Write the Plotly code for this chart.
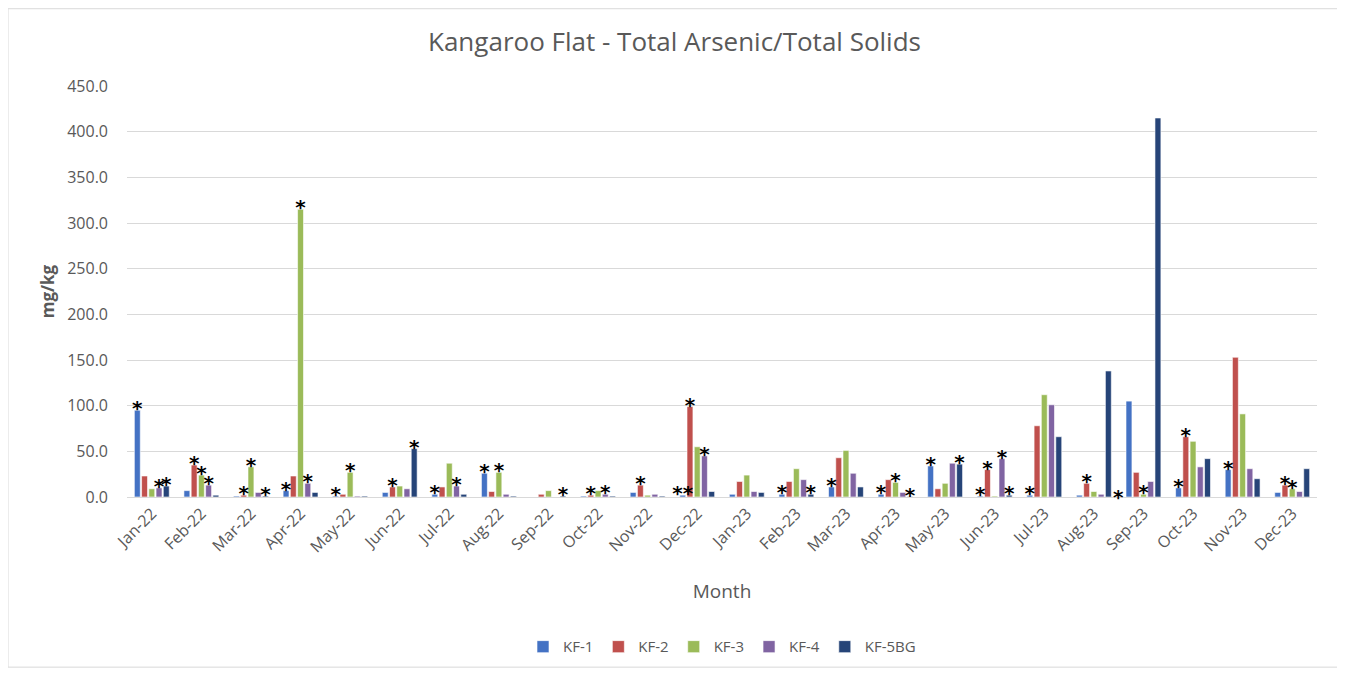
import plotly.graph_objects as go

months = ["Jan-22", "Feb-22", "Mar-22", "Apr-22", "May-22", "Jun-22",
          "Jul-22", "Aug-22", "Sep-22", "Oct-22", "Nov-22", "Dec-22",
          "Jan-23", "Feb-23", "Mar-23", "Apr-23", "May-23", "Jun-23",
          "Jul-23", "Aug-23", "Sep-23", "Oct-23", "Nov-23", "Dec-23"]

kf1 = [95, 7, 1, 7, 1, 5, 3, 26, 0, 1, 5, 2,
       3, 3, 11, 3, 34, 1, 2, 2, 105, 10, 30, 5]
kf2 = [23, 35, 2, 23, 3, 11, 11, 6, 3, 2, 13, 99,
       17, 17, 43, 19, 9, 30, 78, 15, 27, 66, 153, 13]
kf3 = [9, 24, 33, 315, 27, 12, 37, 27, 7, 7, 2, 55,
       24, 31, 51, 16, 15, 1, 112, 6, 3, 61, 91, 9]
kf4 = [10, 13, 5, 15, 1, 9, 12, 3, 0, 3, 3, 45,
       6, 19, 26, 5, 37, 42, 101, 3, 17, 33, 31, 6]
kf5bg = [12, 2, 1, 5, 1, 53, 3, 1, 1, 1, 1, 6,
         5, 3, 11, 0.5, 36, 2, 66, 138, 415, 42, 20, 31]

# asterisk flags drawn above the bars
star_kf1 = ["*", "", "", "*", "*", "", "*", "*", "", "", "", "**",
            "", "*", "*", "*", "*", "*", "*", "", "", "*", "*", ""]
star_kf2 = ["", "*", "*", "", "", "*", "", "", "", "*", "*", "*",
            "", "", "", "", "", "*", "", "*", "", "*", "", "*"]
star_kf3 = ["", "*", "*", "*", "*", "", "", "*", "", "", "", "",
            "", "", "", "*", "", "", "", "", "*", "", "", "*"]
star_kf4 = ["*", "*", "", "*", "", "", "*", "", "", "*", "", "*",
            "", "", "", "", "", "*", "", "", "", "", "", ""]
star_kf5bg = ["*", "", "*", "", "", "*", "", "", "*", "", "", "",
              "", "*", "", "*", "*", "*", "", "", "", "", "", ""]
# asterisk sitting in the gap after a month's group
gap_stars = ["Aug-23"]

series = [("KF-1", kf1, star_kf1, "#4472C4"),
          ("KF-2", kf2, star_kf2, "#C0504D"),
          ("KF-3", kf3, star_kf3, "#9BBB59"),
          ("KF-4", kf4, star_kf4, "#8064A2"),
          ("KF-5BG", kf5bg, star_kf5bg, "#264478")]

grey = "#595959"
font_name = "Open Sans"
bar_gap = 0.27
star_font = dict(family="DejaVu Sans", size=20, color="black", weight="bold")

fig = go.Figure()

for name, vals, stars, colour in series:
    fig.add_trace(go.Bar(x=months, y=vals, name=name, offsetgroup=name,
                         marker=dict(color=colour, line=dict(color="white", width=0.6))))

for name, vals, stars, colour in series:
    fig.add_trace(go.Scatter(x=months, y=vals, mode="text", text=stars,
                             textposition="middle center", offsetgroup=name,
                             textfont=star_font, showlegend=False, hoverinfo="skip"))

for m in gap_stars:
    fig.add_annotation(x=months.index(m) + 0.5, y=0, text="*", showarrow=False,
                       yanchor="middle", font=star_font)

# light frame around the whole chart
fig.add_shape(type="rect", xref="paper", yref="paper",
              x0=-0.1, x1=1.0195, y0=-0.414, y1=1.188,
              line=dict(color="#D9D9D9", width=1))

fig.update_layout(
    width=1333, height=660,
    margin=dict(l=119, r=24, t=78, b=171),
    paper_bgcolor="white", plot_bgcolor="white",
    barmode="group", bargap=bar_gap, bargroupgap=0.18,
    scattermode="group", scattergap=bar_gap,
    font=dict(family=font_name, color=grey),
    title=dict(text="Kangaroo Flat - Total Arsenic/Total Solids",
               x=0.5, xanchor="center", y=0.948, yanchor="middle",
               font=dict(size=26, color=grey)),
    legend=dict(orientation="h", x=0.5, xanchor="center",
                yref="container", y=0.032, yanchor="middle",
                font=dict(size=15, color=grey), traceorder="normal",
                itemwidth=30),
    showlegend=True,
)

fig.update_xaxes(title=dict(text="Month", font=dict(size=19, color=grey), standoff=28),
                 tickangle=-45, tickfont=dict(size=16, color=grey), automargin=False,
                 showline=True, linecolor="#D9D9D9", linewidth=1,
                 showgrid=False, ticks="")

fig.update_yaxes(title=dict(text="<b>mg/kg</b>", font=dict(size=17, color=grey), standoff=8),
                 range=[0, 450], dtick=50, tickformat=".1f", automargin=False,
                 tickfont=dict(size=16, color=grey),
                 showgrid=True, gridcolor="#D9D9D9", gridwidth=1,
                 zeroline=False, ticks="", ticklabelstandoff=18)

fig.write_html("out.html")
